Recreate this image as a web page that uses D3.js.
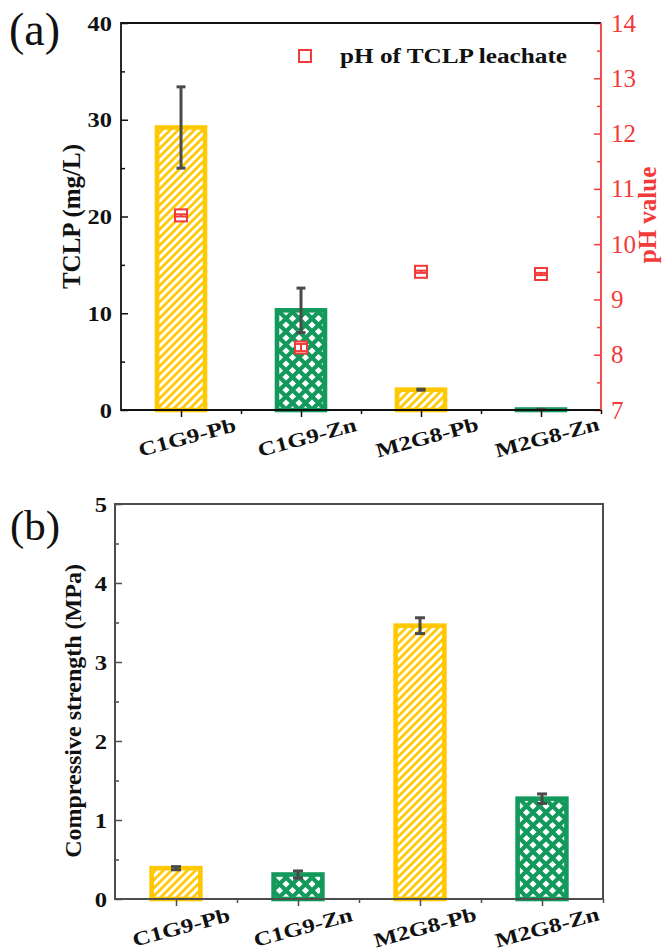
<!DOCTYPE html>
<html><head><meta charset="utf-8">
<script src="https://cdn.jsdelivr.net/npm/d3@7"></script>
<style>
html,body{margin:0;padding:0;background:#fff;}
svg{display:block;font-family:"Liberation Serif","Times New Roman",serif;}
</style>
</head><body>
<svg id="fig" width="667" height="951"></svg>
<script>
// ---- data ----
const categories = ["C1G9-Pb", "C1G9-Zn", "M2G8-Pb", "M2G8-Zn"];
const metals = ["Pb", "Zn", "Pb", "Zn"];
const tclp = [29.2, 10.3, 2.1, 0.05];          // mg/L
const tclpErr = [4.2, 2.3, 0.05, 0.02];
const phValues = [10.52, 8.13, 9.50, 9.46];
const phErr = [0.02, 0.065, 0.02, 0.02];
const strength = [0.39, 0.31, 3.46, 1.27];     // MPa
const strengthErr = [0.02, 0.045, 0.10, 0.06];
const tclpTicks = [0, 10, 20, 30, 40];
const tclpMinor = [5, 15, 25, 35];
const phTicks = [7, 8, 9, 10, 11, 12, 13, 14];
const phMinor = [7.5, 8.5, 9.5, 10.5, 11.5, 12.5, 13.5];
const strengthTicks = [0, 1, 2, 3, 4, 5];
const strengthMinor = [0.5, 1.5, 2.5, 3.5, 4.5];

// ---- style ----
const YEL = "#FFC800", GRN = "#13995C", RED = "#F23A3A", ERR = "#4a4a4a";
const fillFor = m => m === "Pb" ? "url(#hatch)" : "url(#xhatch)";
const strokeFor = m => m === "Pb" ? YEL : GRN;

const svg = d3.select("#fig");
const defs = svg.append("defs");

// diagonal stripes for Pb
const hatch = defs.append("pattern").attr("id", "hatch")
  .attr("patternUnits", "userSpaceOnUse").attr("width", 5.7).attr("height", 5.7)
  .attr("patternTransform", "rotate(45)");
hatch.append("rect").attr("width", 5.7).attr("height", 5.7).attr("fill", "#fff");
hatch.append("line").attr("x1", 1.4).attr("x2", 1.4).attr("y1", -1).attr("y2", 7)
  .attr("stroke", YEL).attr("stroke-width", 2.7);

// cross-hatch (white diamonds on green) for Zn
const P = 13, h = 3.6;
const xh = defs.append("pattern").attr("id", "xhatch")
  .attr("patternUnits", "userSpaceOnUse").attr("width", P).attr("height", P);
xh.append("rect").attr("width", P).attr("height", P).attr("fill", GRN);
const diamond = (cx, cy) => `M${cx},${cy - h}L${cx + h},${cy}L${cx},${cy + h}L${cx - h},${cy}Z`;
xh.append("path").attr("fill", "#fff")
  .attr("d", [[P / 2, P / 2], [0, 0], [P, 0], [0, P], [P, P]].map(d => diamond(d[0], d[1])).join(""));

// text helper: optional horizontal widening and rotation
function label(g, str, x, y, o) {
  const t = g.append("text")
    .attr("transform", `translate(${x},${y}) rotate(${o.rot || 0}) scale(${o.sx || 1},1)`)
    .attr("font-size", o.size).attr("font-weight", o.weight || "bold")
    .attr("text-anchor", o.anchor || "start").attr("fill", o.fill || "#111")
    .text(str);
  if (o.dy) t.attr("dy", o.dy);
  return t;
}

function errorBar(g, x, y1, y2, cap, color, width) {
  g.append("line").attr("x1", x).attr("x2", x).attr("y1", y1).attr("y2", y2)
    .attr("stroke", color).attr("stroke-width", width);
  [y1, y2].forEach(yy => g.append("line").attr("x1", x - cap / 2).attr("x2", x + cap / 2)
    .attr("y1", yy).attr("y2", yy).attr("stroke", color).attr("stroke-width", width));
}

// ================= panel (a): TCLP + pH =================
{
  const L = 121, R = 601, T = 23, B = 410;
  const g = svg.append("g");
  const x = d3.scaleBand().domain(categories).range([L, R]).padding(0);
  const y = d3.scaleLinear().domain([0, 40]).range([B, T]);
  const yPh = d3.scaleLinear().domain([7, 14]).range([B, T]);
  const bw = x.bandwidth() * 0.4;

  // bars
  g.selectAll("rect.bar").data(categories).join("rect").attr("class", "bar")
    .attr("x", d => x(d) + x.bandwidth() / 2 - bw / 2)
    .attr("y", (d, i) => y(tclp[i]))
    .attr("width", bw)
    .attr("height", (d, i) => y(0) - y(tclp[i]))
    .attr("fill", (d, i) => fillFor(metals[i]))
    .attr("stroke", (d, i) => strokeFor(metals[i]))
    .attr("stroke-width", 4.6);

  categories.forEach((c, i) => {
    const cx = x(c) + x.bandwidth() / 2;
    errorBar(g, cx, y(tclp[i] + tclpErr[i]), y(tclp[i] - tclpErr[i]), 9, ERR, 3);
  });

  // pH markers
  categories.forEach((c, i) => {
    const cx = x(c) + x.bandwidth() / 2, cy = yPh(phValues[i]);
    g.append("rect").attr("x", cx - 6).attr("y", cy - 6).attr("width", 12).attr("height", 12)
      .attr("fill", "#fff").attr("stroke", RED).attr("stroke-width", 2);
    errorBar(g, cx, yPh(phValues[i] + phErr[i]), yPh(phValues[i] - phErr[i]), 12, RED, 2);
  });

  // left axis (ticks inward)
  g.append("g").attr("transform", `translate(${L},0)`)
    .call(d3.axisRight(y).tickValues(tclpTicks).tickSize(7).tickSizeOuter(0).tickFormat(""))
    .call(s => s.select(".domain").remove())
    .selectAll("line").attr("stroke", "#111").attr("stroke-width", 1.5);
  g.append("g").attr("transform", `translate(${L},0)`)
    .call(d3.axisRight(y).tickValues(tclpMinor).tickSize(4).tickFormat(""))
    .call(s => s.select(".domain").remove())
    .selectAll("line").attr("stroke", "#111").attr("stroke-width", 1.5);
  tclpTicks.forEach(t => label(g, t, 112, y(t) + 7.5, { size: 20, sx: 1.22, anchor: "end" }));

  // right pH axis (red, ticks inward)
  g.append("g").attr("transform", `translate(${R},0)`)
    .call(d3.axisLeft(yPh).tickValues(phTicks).tickSize(7).tickFormat(""))
    .call(s => s.select(".domain").remove())
    .selectAll("line").attr("stroke", RED).attr("stroke-width", 1.5);
  g.append("g").attr("transform", `translate(${R},0)`)
    .call(d3.axisLeft(yPh).tickValues(phMinor).tickSize(4).tickFormat(""))
    .call(s => s.select(".domain").remove())
    .selectAll("line").attr("stroke", RED).attr("stroke-width", 1.5);
  phTicks.forEach(t => label(g, t, 611, yPh(t) + 8.5, { size: 25, weight: "normal", fill: RED }));

  // bottom axis (ticks outward)
  const xc = d3.scalePoint().domain(categories).range([L + x.bandwidth() / 2, R - x.bandwidth() / 2]);
  g.append("g").attr("transform", `translate(0,${B})`)
    .call(d3.axisBottom(xc).tickSize(7).tickFormat(""))
    .call(s => s.select(".domain").remove())
    .selectAll("line").attr("stroke", "#111").attr("stroke-width", 1.5);
  const bounds = d3.range(categories.length + 1).map(i => L + i * x.step());
  const xb = d3.scaleLinear().domain([L, R]).range([L, R]);
  g.append("g").attr("transform", `translate(0,${B})`)
    .call(d3.axisBottom(xb).tickValues(bounds.slice(1)).tickSize(4).tickFormat(""))
    .call(s => s.select(".domain").remove())
    .selectAll("line").attr("stroke", "#111").attr("stroke-width", 1.5);
  categories.forEach(c => label(g, c, xc(c) + 6, B + 27, { size: 20, sx: 1.25, rot: -15, anchor: "middle", dy: "0.35em" }));

  // frame
  g.append("path").attr("d", `M${R},${T}H${L}V${B}H${R}`).attr("fill", "none")
    .attr("stroke", "#111").attr("stroke-width", 1.8);
  g.append("line").attr("x1", R).attr("x2", R).attr("y1", T).attr("y2", B)
    .attr("stroke", RED).attr("stroke-width", 1.8);

  // legend
  g.append("rect").attr("x", 299).attr("y", 50).attr("width", 12).attr("height", 12)
    .attr("fill", "none").attr("stroke", RED).attr("stroke-width", 2);
  label(g, "pH of TCLP leachate", 340, 63, { size: 21, sx: 1.2 });

  // axis titles
  label(g, "TCLP (mg/L)", 80, (T + B) / 2 + 0, { size: 25, rot: -90, anchor: "middle" });
  label(g, "pH value", 656, 215, { size: 25, rot: -90, anchor: "middle", fill: RED });
  label(g, "(a)", 9, 45, { size: 46, weight: "normal" });
}

// ================= panel (b): compressive strength =================
{
  const L = 115, R = 603, T = 504, B = 899;
  const AX = "#4d4d4d";
  const g = svg.append("g");
  const x = d3.scaleBand().domain(categories).range([L, R]).padding(0);
  const y = d3.scaleLinear().domain([0, 5]).range([B, T]);
  const bw = x.bandwidth() * 0.4;

  g.selectAll("rect.bar").data(categories).join("rect").attr("class", "bar")
    .attr("x", d => x(d) + x.bandwidth() / 2 - bw / 2)
    .attr("y", (d, i) => y(strength[i]))
    .attr("width", bw)
    .attr("height", (d, i) => y(0) - y(strength[i]))
    .attr("fill", (d, i) => fillFor(metals[i]))
    .attr("stroke", (d, i) => strokeFor(metals[i]))
    .attr("stroke-width", 4.6);

  categories.forEach((c, i) => {
    const cx = x(c) + x.bandwidth() / 2;
    errorBar(g, cx, y(strength[i] + strengthErr[i]), y(strength[i] - strengthErr[i]), 10, ERR, 3);
  });

  g.append("g").attr("transform", `translate(${L},0)`)
    .call(d3.axisRight(y).tickValues(strengthTicks).tickSize(7).tickFormat(""))
    .call(s => s.select(".domain").remove())
    .selectAll("line").attr("stroke", AX).attr("stroke-width", 1.5);
  g.append("g").attr("transform", `translate(${L},0)`)
    .call(d3.axisRight(y).tickValues(strengthMinor).tickSize(4).tickFormat(""))
    .call(s => s.select(".domain").remove())
    .selectAll("line").attr("stroke", AX).attr("stroke-width", 1.5);
  strengthTicks.forEach(t => label(g, t, 107, y(t) + 8, { size: 22, sx: 1.12, anchor: "end" }));

  const xc = d3.scalePoint().domain(categories).range([L + x.bandwidth() / 2, R - x.bandwidth() / 2]);
  g.append("g").attr("transform", `translate(0,${B})`)
    .call(d3.axisBottom(xc).tickSize(7).tickFormat(""))
    .call(s => s.select(".domain").remove())
    .selectAll("line").attr("stroke", AX).attr("stroke-width", 1.5);
  const bounds = d3.range(categories.length + 1).map(i => L + i * x.step());
  const xb = d3.scaleLinear().domain([L, R]).range([L, R]);
  g.append("g").attr("transform", `translate(0,${B})`)
    .call(d3.axisBottom(xb).tickValues(bounds.slice(1)).tickSize(4).tickFormat(""))
    .call(s => s.select(".domain").remove())
    .selectAll("line").attr("stroke", AX).attr("stroke-width", 1.5);
  categories.forEach(c => label(g, c, xc(c) + 5, B + 28, { size: 20, sx: 1.25, rot: -15, anchor: "middle", dy: "0.35em" }));

  g.append("rect").attr("x", L).attr("y", T).attr("width", R - L).attr("height", B - T)
    .attr("fill", "none").attr("stroke", AX).attr("stroke-width", 2);

  label(g, "Compressive strength (MPa)", 81, 711, { size: 24, rot: -90, anchor: "middle" });
  label(g, "(b)", 10, 540, { size: 43, weight: "normal" });
}
</script>
</body></html>
